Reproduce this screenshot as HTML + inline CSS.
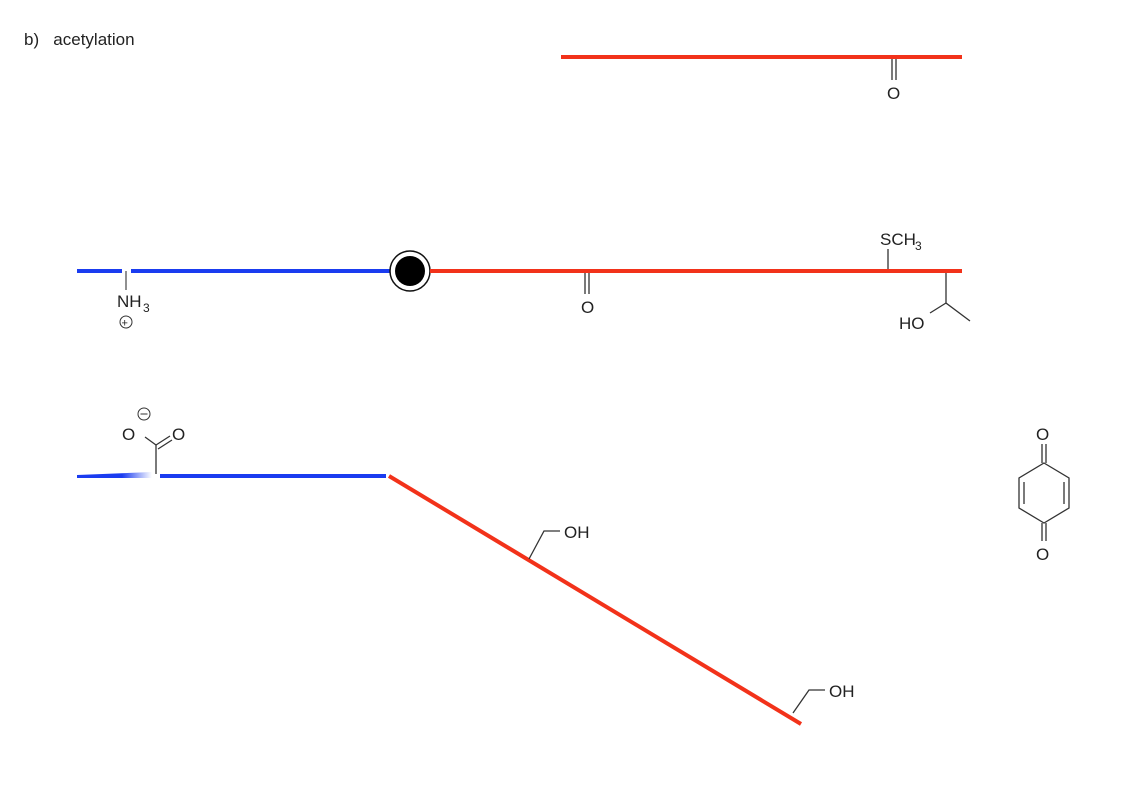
<!DOCTYPE html>
<html><head><meta charset="utf-8"><style>
html,body{margin:0;padding:0;background:#fff;}
svg{display:block;}
text{font-family:"Liberation Sans",Arial,sans-serif;fill:#222;}
</style></head><body>
<svg width="1125" height="797" viewBox="0 0 1125 797" xmlns="http://www.w3.org/2000/svg">
<text x="24" y="45" font-size="17">b)&#160;&#160;&#160;acetylation</text>

<line x1="561" y1="57" x2="962" y2="57" stroke="#f2321a" stroke-width="4"/>
<line x1="892" y1="59" x2="892" y2="80" stroke="#333" stroke-width="1.3"/>
<line x1="896" y1="59" x2="896" y2="80" stroke="#333" stroke-width="1.3"/>
<text x="887" y="99" font-size="17">O</text>

<line x1="77" y1="271" x2="122" y2="271" stroke="#1a3cf0" stroke-width="4"/>
<line x1="131" y1="271" x2="392" y2="271" stroke="#1a3cf0" stroke-width="4"/>
<line x1="126" y1="271" x2="126" y2="290" stroke="#555" stroke-width="1.3"/>
<text x="117" y="307" font-size="17">NH</text><text x="143" y="312" font-size="12">3</text>
<circle cx="126" cy="322" r="6" fill="none" stroke="#333" stroke-width="1"/>
<text x="121.5" y="326.5" font-size="11">+</text>
<circle cx="410" cy="271" r="20" fill="#fff" stroke="#111" stroke-width="1.5"/>
<circle cx="410" cy="271" r="15" fill="#000"/>
<line x1="430" y1="271" x2="962" y2="271" stroke="#f2321a" stroke-width="4"/>
<line x1="585" y1="273" x2="585" y2="294" stroke="#333" stroke-width="1.3"/>
<line x1="589" y1="273" x2="589" y2="294" stroke="#333" stroke-width="1.3"/>
<text x="581" y="313" font-size="17">O</text>
<line x1="888" y1="249" x2="888" y2="269" stroke="#333" stroke-width="1.3"/>
<text x="880" y="245" font-size="17">SCH</text><text x="915" y="250" font-size="12">3</text>
<polyline points="946,273 946,303 970,321" fill="none" stroke="#333" stroke-width="1.3"/>
<line x1="946" y1="303" x2="930" y2="313" stroke="#333" stroke-width="1.3"/>
<text x="899" y="329" font-size="17">HO</text>

<defs><linearGradient id="g" x1="0" x2="1"><stop offset="0" stop-color="#1a3cf0"/><stop offset="0.6" stop-color="#1a3cf0"/><stop offset="1" stop-color="#fff"/></linearGradient></defs>
<polygon points="77,475 152,472 152,478 77,478" fill="url(#g)"/>
<line x1="160" y1="476" x2="386" y2="476" stroke="#1a3cf0" stroke-width="4"/>
<line x1="156" y1="474" x2="156" y2="445" stroke="#333" stroke-width="1.3"/>
<line x1="156" y1="445" x2="145" y2="437" stroke="#333" stroke-width="1.3"/>
<line x1="156" y1="445" x2="170" y2="436" stroke="#333" stroke-width="1.3"/>
<line x1="158" y1="449" x2="172" y2="440" stroke="#333" stroke-width="1.3"/>
<text x="122" y="440" font-size="17">O</text>
<text x="172" y="440" font-size="17">O</text>
<circle cx="144" cy="414" r="6" fill="none" stroke="#333" stroke-width="1"/>
<line x1="140.5" y1="414" x2="147.5" y2="414" stroke="#333" stroke-width="1"/>
<line x1="389" y1="476" x2="801" y2="724" stroke="#f2321a" stroke-width="4"/>
<polyline points="529,559 544,531 560,531" fill="none" stroke="#333" stroke-width="1.3"/>
<text x="564" y="538" font-size="17">OH</text>
<polyline points="793,713 809,690 825,690" fill="none" stroke="#333" stroke-width="1.3"/>
<text x="829" y="697" font-size="17">OH</text>

<text x="1036" y="440" font-size="17">O</text>
<line x1="1042" y1="444" x2="1042" y2="463" stroke="#333" stroke-width="1.3"/>
<line x1="1046" y1="444" x2="1046" y2="463" stroke="#333" stroke-width="1.3"/>
<polygon points="1044,463 1069,478 1069,508 1044,523 1019,508 1019,478" fill="none" stroke="#333" stroke-width="1.3"/>
<line x1="1064" y1="482" x2="1064" y2="504" stroke="#333" stroke-width="1.3"/>
<line x1="1024" y1="482" x2="1024" y2="504" stroke="#333" stroke-width="1.3"/>
<line x1="1042" y1="523" x2="1042" y2="541" stroke="#333" stroke-width="1.3"/>
<line x1="1046" y1="523" x2="1046" y2="541" stroke="#333" stroke-width="1.3"/>
<text x="1036" y="560" font-size="17">O</text>
</svg>
</body></html>
